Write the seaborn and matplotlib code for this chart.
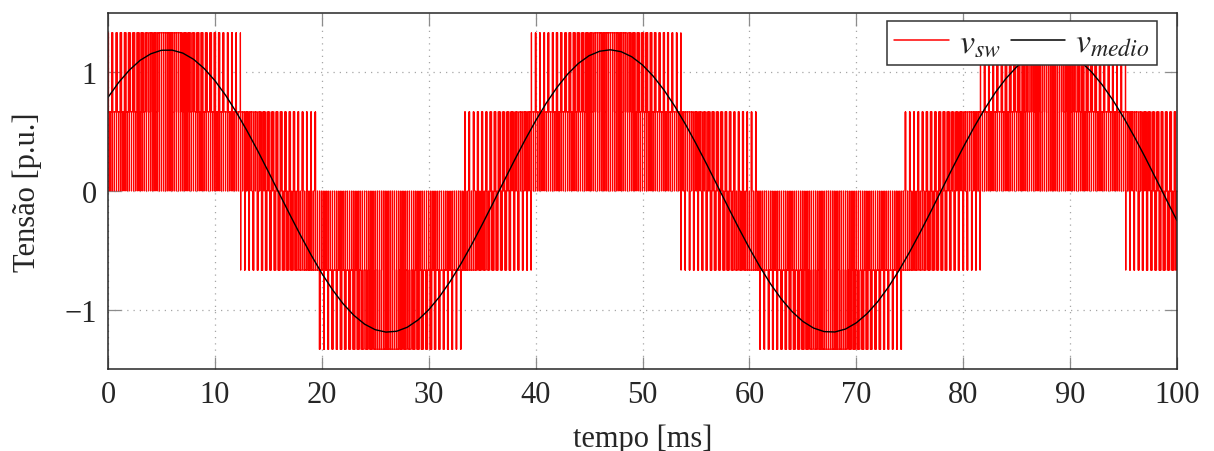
import numpy as np
import pandas as pd
import matplotlib
matplotlib.use("Agg")
import matplotlib.pyplot as plt
import seaborn as sns

# ---------------- data ----------------
tempo_ms = list(range(0, 101))  # sample instants of the average voltage [ms]
v_medio = [
    0.789, 0.915, 1.019, 1.101, 1.156, 1.186, 1.187, 1.162, 1.110, 1.032,
    0.930, 0.807, 0.665, 0.508, 0.340, 0.163, -0.017, -0.197, -0.372, -0.539,
    -0.694, -0.832, -0.951, -1.048, -1.122, -1.169, -1.189, -1.182, -1.148, -1.087,
    -1.001, -0.892, -0.763, -0.616, -0.455, -0.283, -0.105, 0.076, 0.255, 0.428,
    0.591, 0.741, 0.873, 0.985, 1.075, 1.140, 1.178, 1.190, 1.174, 1.131,
    1.062, 0.968, 0.852, 0.717, 0.565, 0.400, 0.226, 0.046, -0.134, -0.312,
    -0.482, -0.641, -0.786, -0.912, -1.017, -1.099, -1.155, -1.185, -1.188, -1.163,
    -1.111, -1.034, -0.933, -0.810, -0.669, -0.512, -0.344, -0.168, 0.013, 0.193,
    0.368, 0.535, 0.690, 0.829, 0.948, 1.046, 1.120, 1.168, 1.189, 1.183,
    1.149, 1.089, 1.004, 0.895, 0.766, 0.620, 0.459, 0.288, 0.109, -0.071,
    -0.250,
]
periodo_fundamental_ms = 41.35   # read from the spacing of the peaks
periodo_portadora_ms = 0.4       # read from the pulse spacing
x_ticks = [0, 10, 20, 30, 40, 50, 60, 70, 80, 90, 100]
y_ticks = [-1, 0, 1]
rotulo_x = "tempo [ms]"
rotulo_y = "Tensão [p.u.]"
legenda = [r"$v_{sw}$", r"$v_{medio}$"]

# ---------------- switched voltage built from the read average ----------------
t_tab = np.array(tempo_ms, dtype=float)
v_tab = np.array(v_medio, dtype=float)


def amostra(t):
    """nearest tabulated sample, shifted by whole fundamental periods if needed"""
    while t < t_tab[0] - 0.5:
        t += periodo_fundamental_ms
    while t > t_tab[-1] + 0.5:
        t -= periodo_fundamental_ms
    i = int(round(t))
    i = min(max(i, 0), len(v_tab) - 1)
    return v_tab[i]


P = periodo_portadora_ms
T3 = periodo_fundamental_ms / 3.0
xs, ys = [], []
n_per = int(round((t_tab[-1] - t_tab[0]) / P))
for k in range(n_per):
    t0 = t_tab[0] + k * P
    tc = t0 + P / 2
    refs = np.array([amostra(tc), amostra(tc - T3), amostra(tc + T3)])
    refs = refs - (refs.max() + refs.min()) / 2.0
    refs = np.clip(refs, -0.95, 0.95)
    dur = P * (1 + refs) / 2.0
    ini = tc - dur / 2
    fim = tc + dur / 2
    bordas = np.unique(np.concatenate([[t0, t0 + P], ini, fim]))
    for j in range(len(bordas) - 1):
        a0, a1 = bordas[j], bordas[j + 1]
        if a1 - a0 <= 0:
            continue
        m = 0.5 * (a0 + a1)
        S = ((m >= ini) & (m <= fim)).astype(float)
        v = (2.0 / 3.0) * (2 * S[0] - S[1] - S[2])
        xs += [a0, a1]
        ys += [v, v]

df_sw = pd.DataFrame({"t": xs, "v": ys})
df_med = pd.DataFrame({"t": t_tab, "v": v_tab})

# ---------------- figure ----------------
sns.set_theme(style="ticks")
plt.rcParams["font.family"] = ["Liberation Serif", "DejaVu Serif"]
plt.rcParams["mathtext.fontset"] = "stix"
plt.rcParams["axes.unicode_minus"] = True

fig = plt.figure(figsize=(12.14, 4.52), dpi=100)
ax = fig.add_axes([108 / 1214, 1 - 370 / 452, (1177 - 108) / 1214, (370 - 14) / 452])

sns.lineplot(data=df_sw, x="t", y="v", sort=False, estimator=None, ax=ax,
             color="red", linewidth=0.9, label=legenda[0])
sns.lineplot(data=df_med, x="t", y="v", sort=False, estimator=None, ax=ax,
             color="black", linewidth=1.0, label=legenda[1])

ax.set_xlim(0, 100)
ax.set_ylim(-1.5, 1.5)
ax.set_xticks(x_ticks)
ax.set_yticks(y_ticks)
ax.grid(True, which="major", linestyle=(0, (1, 4)), color="0.65", linewidth=0.9)
ax.set_axisbelow(True)
ax.tick_params(direction="in", top=True, right=True, length=9, width=0.9,
               color="0.55", labelsize=22, pad=8)
for s in ax.spines.values():
    s.set_color("0.15")
    s.set_linewidth(1.1)

ax.set_xlabel(rotulo_x, fontsize=22, labelpad=10)
ax.set_ylabel(rotulo_y, fontsize=22, labelpad=16)

leg = ax.legend(loc="upper right", bbox_to_anchor=(0.981, 0.978), borderaxespad=0,
                ncol=2, fontsize=24.5, frameon=True, fancybox=False, framealpha=1,
                edgecolor="0.2", handlelength=1.6, handletextpad=0.3,
                columnspacing=0.3, borderpad=0.2)
leg.get_frame().set_linewidth(1.1)
for h in leg.get_lines():
    h.set_linewidth(1.1)
leg.set_zorder(10)

fig.savefig("out.png", dpi=100)
